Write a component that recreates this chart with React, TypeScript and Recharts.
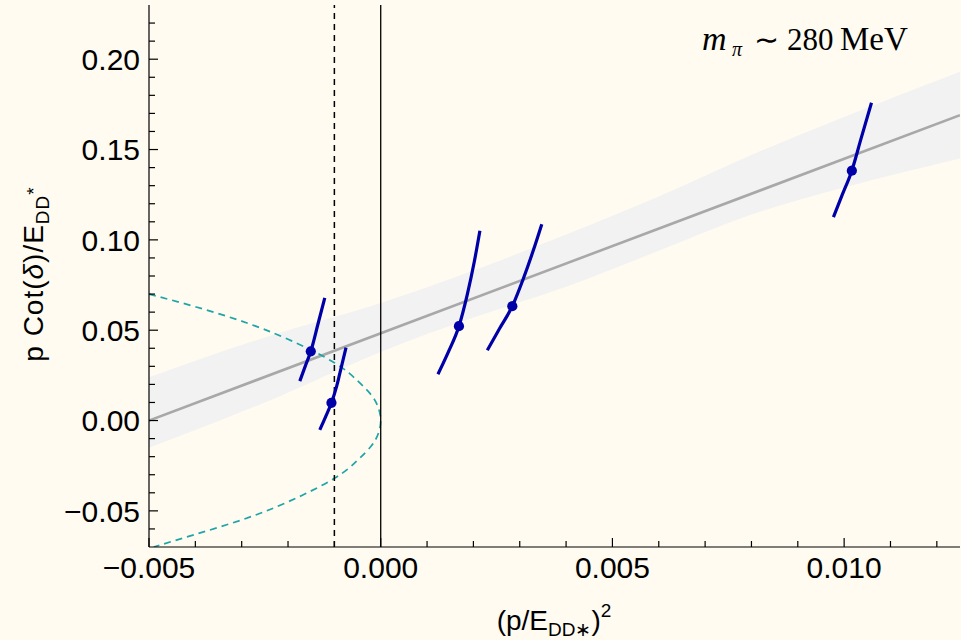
import {
  ComposedChart,
  Line,
  Area,
  Scatter,
  XAxis,
  YAxis,
  ZAxis,
  ReferenceLine,
} from "recharts";

// fit line + error band
const FIT_X = [-0.005, 0.0125];
const FIT_Y = [0.0, 0.169];
const BAND_X = [-0.005, -0.0025, 0, 0.002, 0.004, 0.006, 0.008, 0.01, 0.0125];
const BAND_LO = [-0.015, 0.01, 0.038, 0.057, 0.074, 0.094, 0.114, 0.129, 0.145];
const BAND_HI = [0.024, 0.046, 0.065, 0.083, 0.103, 0.124, 0.147, 0.168, 0.193];

// bound-state condition curve (cyan, dashed)
const BOUND_X = [
  -0.005, -0.004, -0.003, -0.002, -0.001, -0.0005, -0.0002, -0.00005, 0,
  -0.00005, -0.0002, -0.0005, -0.001, -0.002, -0.003, -0.004, -0.0049,
];
const BOUND_Y = [
  0.07, 0.063, 0.055, 0.045, 0.032, 0.022, 0.014, 0.007, 0,
  -0.007, -0.014, -0.022, -0.032, -0.045, -0.055, -0.063, -0.07,
];

// energy levels: central values
const LEVEL_X = [-0.001509, -0.001063, 0.001688, 0.00284, 0.010166];
const LEVEL_Y = [0.0383, 0.0098, 0.0522, 0.0633, 0.1383];

// energy levels: uncertainty curves
const LEVEL1_X = [-0.001746, -0.00163, -0.001509, -0.001351, -0.001207];
const LEVEL1_Y = [0.0218, 0.03, 0.0383, 0.0537, 0.0679];
const LEVEL2_X = [-0.001315, -0.00119, -0.001063, -0.00095, -0.000884, -0.000748];
const LEVEL2_Y = [-0.0052, 0.002, 0.0098, 0.019, 0.0259, 0.0404];
const LEVEL3_X = [0.001235, 0.00147, 0.001688, 0.00187, 0.00202, 0.00214];
const LEVEL3_Y = [0.0256, 0.0385, 0.0522, 0.07, 0.088, 0.105];
const LEVEL4_X = [0.0023, 0.002565, 0.00284, 0.003067, 0.003284, 0.003476];
const LEVEL4_Y = [0.0389, 0.0509, 0.0633, 0.0778, 0.0935, 0.1087];
const LEVEL5_X = [0.009769, 0.00996, 0.010166, 0.01036, 0.01059];
const LEVEL5_Y = [0.1126, 0.125, 0.1383, 0.1556, 0.1759];

const X_MAJOR = [-0.005, 0, 0.005, 0.01];
const X_MINOR = [-0.004, -0.003, -0.002, -0.001, 0.001, 0.002, 0.003, 0.004, 0.006, 0.007, 0.008, 0.009, 0.011, 0.012];
const Y_MAJOR = [-0.05, 0, 0.05, 0.1, 0.15, 0.2];
const Y_MINOR = [
  -0.06, -0.04, -0.03, -0.02, -0.01, 0.01, 0.02, 0.03, 0.04, 0.06, 0.07, 0.08, 0.09,
  0.11, 0.12, 0.13, 0.14, 0.16, 0.17, 0.18, 0.19, 0.21, 0.22,
];

const pairs = (xs: number[], ys: number[]) => xs.map((x, i) => ({ x, y: ys[i] }));

const fitData = pairs(FIT_X, FIT_Y);
const bandData = BAND_X.map((x, i) => ({ x, range: [BAND_LO[i], BAND_HI[i]] }));
const boundData = pairs(BOUND_X, BOUND_Y);
const pointData = pairs(LEVEL_X, LEVEL_Y);
const curves = [
  pairs(LEVEL1_X, LEVEL1_Y),
  pairs(LEVEL2_X, LEVEL2_Y),
  pairs(LEVEL3_X, LEVEL3_Y),
  pairs(LEVEL4_X, LEVEL4_Y),
  pairs(LEVEL5_X, LEVEL5_Y),
];

const xTicks = [...X_MAJOR, ...X_MINOR].sort((a, b) => a - b);
const yTicks = [...Y_MAJOR, ...Y_MINOR].sort((a, b) => a - b);

const BG = "#fffbf0";
const BLUE = "#0000a8";
const SANS = "'Liberation Sans', Arial, Helvetica, sans-serif";
const SERIF = "'Liberation Serif', 'Times New Roman', serif";

const fmt = (v: number, d: number) => {
  const s = Math.abs(v).toFixed(d);
  return v < -1e-12 ? "\u2212" + s : s;
};

const makeTick = (side: "bottom" | "top" | "left" | "right") => (props: any) => {
  const { x, y, payload } = props;
  const v = payload.value;
  const isX = side === "bottom" || side === "top";
  const major = (isX ? X_MAJOR : Y_MAJOR).includes(v);
  const len = major ? 9 : 6;
  let x2 = x;
  let y2 = y;
  if (side === "bottom") y2 = y - len;
  if (side === "top") y2 = y + len;
  if (side === "left") x2 = x + len;
  if (side === "right") x2 = x - len;
  return (
    <g>
      <line x1={x} y1={y} x2={x2} y2={y2} stroke="#000" strokeWidth={1.2} />
      {major && side === "bottom" && (
        <text x={x} y={y + 31} textAnchor="middle" fontSize={30} fontFamily={SANS} fill="#000">
          {fmt(v, 3)}
        </text>
      )}
      {major && side === "left" && (
        <text x={x - 9} y={y} dy="0.36em" textAnchor="end" fontSize={30} fontFamily={SANS} fill="#000">
          {fmt(v, 2)}
        </text>
      )}
    </g>
  );
};

const axisLine = { stroke: "#000", strokeWidth: 1.2 };

export default function App() {
  return (
    <div style={{ position: "absolute", left: 0, top: 0, width: 961, height: 640, background: BG }}>
      <ComposedChart width={961} height={640} margin={{ top: 5, right: 1, bottom: 0, left: 0 }}>
        <XAxis
          type="number"
          dataKey="x"
          domain={[-0.005, 0.0125]}
          allowDataOverflow
          ticks={xTicks}
          interval={0}
          height={93}
          tickSize={0}
          tickMargin={0}
          tickLine={false}
          axisLine={axisLine}
          tick={makeTick("bottom")}
        />
        <XAxis
          xAxisId="top"
          orientation="top"
          type="number"
          domain={[-0.005, 0.0125]}
          allowDataOverflow
          ticks={xTicks}
          interval={0}
          height={0}
          tickSize={0}
          tickMargin={0}
          tickLine={false}
          axisLine={axisLine}
          tick={makeTick("top")}
        />
        <YAxis
          type="number"
          domain={[-0.07, 0.23]}
          allowDataOverflow
          ticks={yTicks}
          interval={0}
          width={149}
          tickSize={0}
          tickMargin={0}
          tickLine={false}
          axisLine={axisLine}
          tick={makeTick("left")}
        />
        <YAxis
          yAxisId="right"
          orientation="right"
          type="number"
          domain={[-0.07, 0.23]}
          allowDataOverflow
          ticks={yTicks}
          interval={0}
          width={0}
          tickSize={0}
          tickMargin={0}
          tickLine={false}
          axisLine={axisLine}
          tick={makeTick("right")}
        />
        <ZAxis range={[82, 82]} />
        <Area
          data={bandData}
          dataKey="range"
          type="monotone"
          stroke="none"
          fill="#f2f2f2"
          fillOpacity={1}
          isAnimationActive={false}
        />
        <Line
          data={fitData}
          dataKey="y"
          type="linear"
          stroke="#a8a8a8"
          strokeWidth={2.6}
          dot={false}
          isAnimationActive={false}
        />
        <Line
          data={boundData}
          dataKey="y"
          type="natural"
          stroke="#1fa5a8"
          strokeWidth={1.7}
          strokeDasharray="7 5"
          dot={false}
          isAnimationActive={false}
        />
        <ReferenceLine x={-0.001} stroke="#000" strokeWidth={1.5} strokeDasharray="6 5" />
        <ReferenceLine x={0} stroke="#000" strokeWidth={1.3} />
        {curves.map((c, i) => (
          <Line
            key={i}
            data={c}
            dataKey="y"
            type="monotone"
            stroke={BLUE}
            strokeWidth={3.2}
            dot={false}
            isAnimationActive={false}
          />
        ))}
        <Scatter data={pointData} dataKey="y" fill={BLUE} isAnimationActive={false} />
      </ComposedChart>
      <svg
        width={961}
        height={640}
        style={{ position: "absolute", left: 0, top: 0, pointerEvents: "none" }}
      >
        <g fontFamily={SERIF} fill="#000">
          <text x={702} y={50} fontSize={34} fontStyle="italic">m</text>
          <text x={732} y={56} fontSize={20} fontStyle="italic">π</text>
          <text x={754} y={50} fontSize={30}>∼</text>
          <text x={787} y={50} fontSize={31}>280</text>
          <text x={840} y={50} fontSize={33}>MeV</text>
        </g>
        <text x={554} y={630} textAnchor="middle" fontSize={28} fontFamily={SANS} fill="#000">
          (p/E
          <tspan fontSize={19} dy={6}>DD∗</tspan>
          <tspan dy={-6}>)</tspan>
          <tspan fontSize={19} dy={-13}>2</tspan>
        </text>
        <text
          transform="translate(43,274) rotate(-90)"
          textAnchor="middle"
          fontSize={28}
          fontFamily={SANS}
          letterSpacing={1}
          fill="#000"
        >
          p Cot(<tspan fontStyle="italic">δ</tspan>)/E
          <tspan fontSize={19} dy={6}>DD</tspan>
          <tspan fontSize={19} dy={-9}>*</tspan>
        </text>
      </svg>
    </div>
  );
}
